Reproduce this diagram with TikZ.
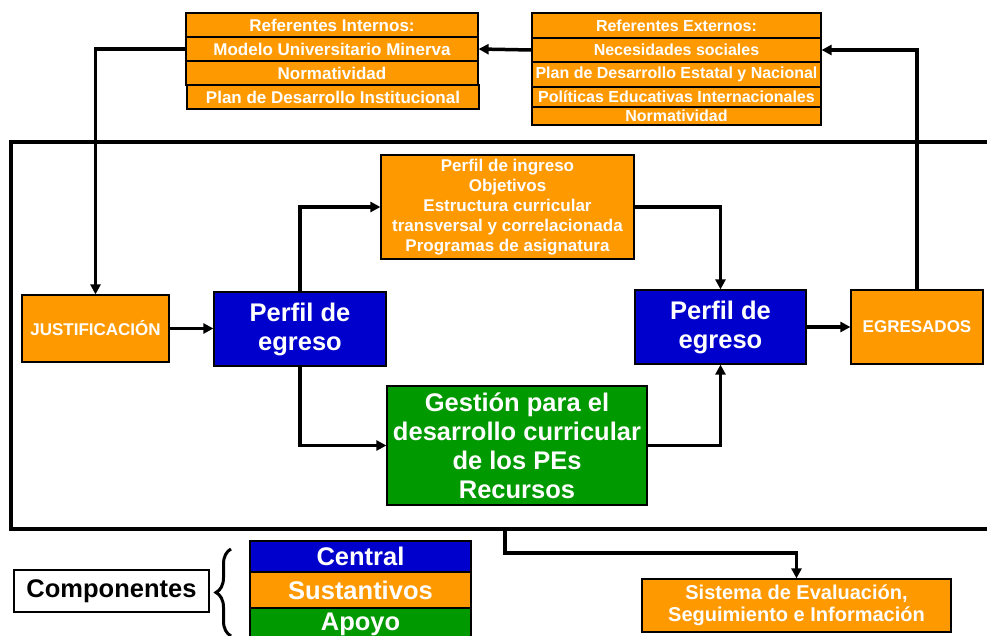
\documentclass[tikz,border=0pt]{standalone}
\usepackage{fontspec}
\setmainfont{Liberation Sans}
\usetikzlibrary{arrows.meta,decorations.pathreplacing}
\definecolor{couleurnaranja}{HTML}{FF9900}
\definecolor{couleurazul}{HTML}{0000CC}
\definecolor{couleurverde}{HTML}{009900}
\definecolor{couleurtexto}{HTML}{FFFFFF}
\tikzset{
		basico/.style={draw, line width=1.2pt, inner sep=0pt, align=center, text=couleurtexto, anchor=center},
		referente/.style={basico, fill=couleurnaranja, font=\fontsize{17}{20}\selectfont\bfseries},
		externo/.style={referente, font=\fontsize{16}{19}\selectfont\bfseries},
		sustantivo/.style={basico, fill=couleurnaranja, font=\fontsize{17}{20}\selectfont\bfseries},
		central/.style={basico, fill=couleurazul, font=\fontsize{25.5}{29}\selectfont\bfseries},
		apoyo/.style={basico, fill=couleurverde, font=\fontsize{25.5}{29}\selectfont\bfseries},
		flecha/.style={line width=3.5pt, -{Triangle[length=10pt,width=10pt]}},
		linea/.style={line width=3.5pt}
	}
\begin{document}
\begin{tikzpicture}[x=1pt, y=-1pt]
		\useasboundingbox (0,0) rectangle (987,636);
		% referentes internos
		\node[referente, minimum width=292pt, minimum height=24pt](titinter) at (332,25) {Referentes Internos:};
		\node[referente, minimum width=292pt, minimum height=24pt](modeunmi) at (332,49) {Modelo Universitario Minerva};
		\node[referente, minimum width=292pt, minimum height=24pt](normintr) at (332,73) {Normatividad};
		\node[referente, minimum width=292pt, minimum height=24pt](plandins) at (333,97) {Plan de Desarrollo Institucional};
		% referentes externos
		\node[externo, minimum width=289pt, minimum height=25pt](titexter) at (676.5,25.5) {Referentes Externos:};
		\node[externo, minimum width=289pt, minimum height=24pt](necesoci) at (676.5,50) {Necesidades sociales};
		\node[externo, minimum width=289pt, minimum height=25pt](plandest) at (676.5,74.5) {Plan de Desarrollo Estatal y Nacional};
		\node[externo, minimum width=289pt, minimum height=20pt](politedu) at (676.5,97) {Políticas Educativas Internacionales};
		\node[externo, minimum width=289pt, minimum height=18pt](normextr) at (676.5,116) {Normatividad};
		% marco
		\draw[linea] (995,142) -- (11,142) -- (11,529) -- (995,529);
		\coordinate (salida) at (505,529);
		% dentro del marco
		\node[sustantivo, minimum width=147pt, minimum height=67pt](justific) at (95.5,328.5) {JUSTIFICACIÓN};
		\node[central, minimum width=172pt, minimum height=74pt](perfegr1) at (300,329) {Perfil de\\egreso};
		\node[sustantivo, minimum width=253pt, minimum height=104pt](perfingr) at (507.5,207) {Perfil de ingreso\\Objetivos\\Estructura curricular\\transversal y correlacionada\\Programas de asignatura};
		\node[central, minimum width=171pt, minimum height=74pt](perfegr2) at (720.5,327) {Perfil de\\egreso};
		\node[sustantivo, minimum width=132pt, minimum height=74pt](egresado) at (917,327) {EGRESADOS};
		\node[apoyo, minimum width=260pt, minimum height=119pt](gestdesa) at (517,445.5) {Gestión para el\\desarrollo curricular\\de los PEs\\Recursos};
		% fuera del marco
		\node[sustantivo, minimum width=309pt, minimum height=53pt, font=\fontsize{20}{22}\selectfont\bfseries](sisteval) at (796.5,605.5) {Sistema de Evaluación,\\Seguimiento e Información};
		\node[basico, fill=white, text=black, minimum width=195pt, minimum height=42pt, font=\fontsize{25.5}{29}\selectfont\bfseries](componen) at (111.5,591) {Componentes};
		\node[central, minimum width=221pt, minimum height=31pt](centralc) at (360.5,556.5) {Central};
		\node[sustantivo, minimum width=221pt, minimum height=36pt, font=\fontsize{25.5}{29}\selectfont\bfseries](sustanti) at (360.5,590) {Sustantivos};
		\node[apoyo, minimum width=221pt, minimum height=32pt](apoyocom) at (360.5,624) {Apoyo};
		\draw[line width=3pt, decorate, decoration={brace, amplitude=15pt}] (231,636) -- (231,549);
		% conectores
		\draw[flecha] (necesoci.west) -- (modeunmi.east);
		\draw[flecha] (modeunmi.west) -| (justific.north);
		\draw[flecha] (egresado.north) |- (necesoci.east);
		\draw[flecha] (justific.east) -- (justific.east -| perfegr1.west);
		\draw[flecha] (perfegr1.north) |- (perfingr.west);
		\draw[flecha] (perfingr.east) -| (perfegr2.north);
		\draw[flecha] (perfegr2.east) -- (perfegr2.east -| egresado.west);
		\draw[flecha] (perfegr1.south) |- (gestdesa.west);
		\draw[flecha] (gestdesa.east) -| (perfegr2.south);
		\draw[flecha] (salida) -- ++(0,24) -| (sisteval.north);
	\end{tikzpicture}
\end{document}
